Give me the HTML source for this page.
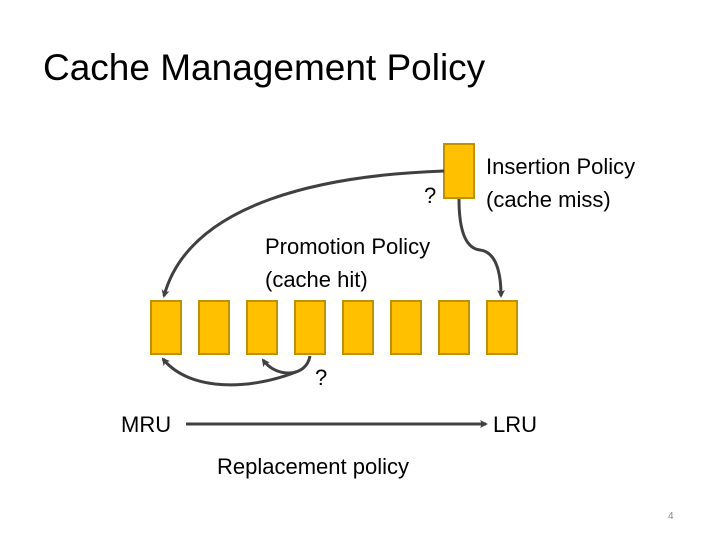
<!DOCTYPE html>
<html><head><style>
body{margin:0;background:#fff;}
svg{display:block;}
text{font-family:"Liberation Sans",sans-serif;fill:#000;}
</style></head><body>
<svg width="720" height="540" viewBox="0 0 720 540">
<defs><marker id="a" markerWidth="8" markerHeight="8" refX="6" refY="4" orient="auto" markerUnits="userSpaceOnUse"><path d="M0,0 L8,4 L0,8 L2,4 Z" fill="#404040"/></marker></defs>
<text x="43" y="80" font-size="37">Cache Management Policy</text>
<g fill="#FFC000" stroke="#BF9000" stroke-width="2">
<rect x="444" y="144" width="30" height="54"/>
<rect x="151" y="301" width="30" height="53"/>
<rect x="199" y="301" width="30" height="53"/>
<rect x="247" y="301" width="30" height="53"/>
<rect x="295" y="301" width="30" height="53"/>
<rect x="343" y="301" width="30" height="53"/>
<rect x="391" y="301" width="30" height="53"/>
<rect x="439" y="301" width="30" height="53"/>
<rect x="487" y="301" width="30" height="53"/>
</g>
<g fill="none" stroke="#404040" stroke-width="3">
<path d="M444,171 C330,175 190,200 164,296" marker-end="url(#a)"/>
<path d="M459,199 C459,220 462,248 480,250 C497,252 501,275 501,296" marker-end="url(#a)"/>
<path d="M310,356 C306,378 276,378 263,360" marker-end="url(#a)"/>
<path d="M296,372 C250,390 190,392 163,359" marker-end="url(#a)"/>
<path d="M186,424 L486,424" marker-end="url(#a)"/>
</g>
<text x="424" y="203" font-size="22">?</text>
<text x="486" y="174" font-size="22">Insertion Policy</text>
<text x="486" y="207" font-size="22">(cache miss)</text>
<text x="265" y="254" font-size="22">Promotion Policy</text>
<text x="265" y="287" font-size="22">(cache hit)</text>
<text x="315" y="385" font-size="22">?</text>
<text x="121" y="432" font-size="22">MRU</text>
<text x="493" y="432" font-size="22">LRU</text>
<text x="217" y="474" font-size="22">Replacement policy</text>
<text x="668" y="519" font-size="10" fill="#888" style="fill:#888">4</text>
</svg>
</body></html>
